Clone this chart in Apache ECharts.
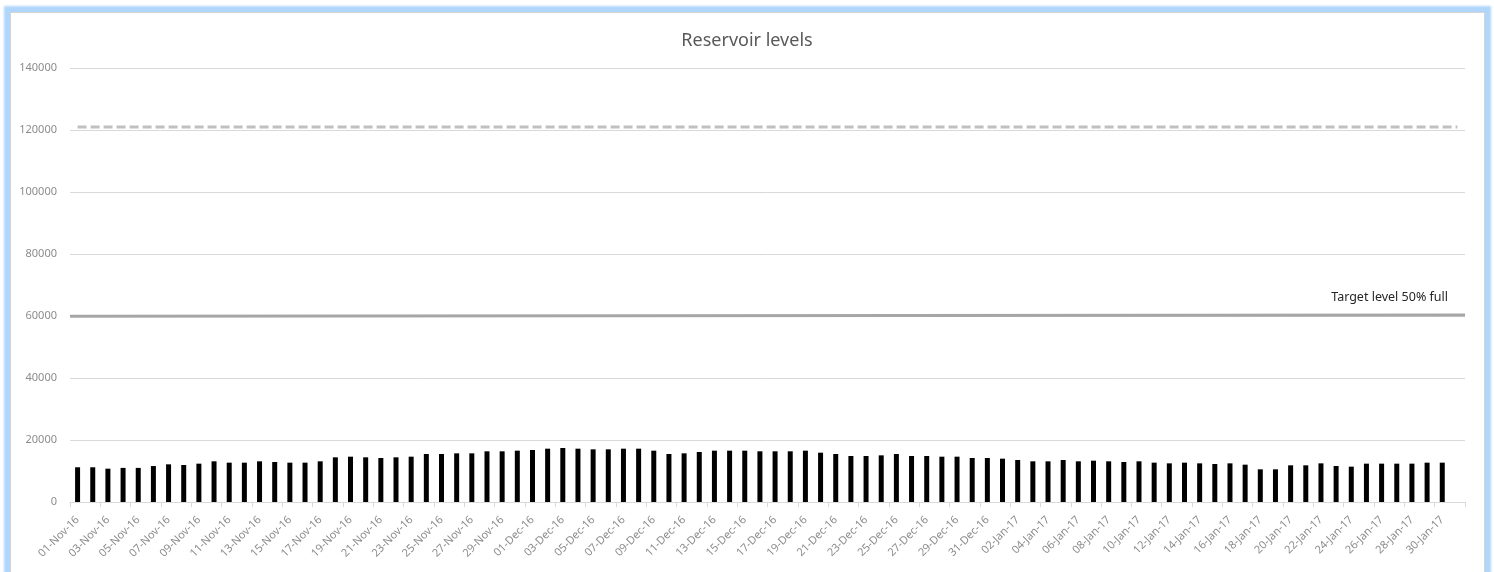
<!DOCTYPE html>
<html>
<head>
<meta charset="utf-8">
<script src="https://cdn.jsdelivr.net/npm/echarts@6/dist/echarts.min.js"></script>
<style>
  html, body { margin: 0; padding: 0; background: #ffffff; width: 1494px; height: 572px; overflow: hidden; }
  #frame { position: absolute; left: 10px; top: 12px; width: 1473px; height: 620px; background: #fff;
           border: 1px solid #d4d4d4; box-shadow: 0 0 2px 6px #b0d6fb; }
  #chart { position: absolute; left: 0; top: 0; width: 1494px; height: 572px; }
</style>
</head>
<body>
<div id="frame"></div>
<div id="chart"></div>
<script>
const dates = [
  '01-Nov-16','02-Nov-16','03-Nov-16','04-Nov-16','05-Nov-16','06-Nov-16','07-Nov-16','08-Nov-16','09-Nov-16','10-Nov-16',
  '11-Nov-16','12-Nov-16','13-Nov-16','14-Nov-16','15-Nov-16','16-Nov-16','17-Nov-16','18-Nov-16','19-Nov-16','20-Nov-16',
  '21-Nov-16','22-Nov-16','23-Nov-16','24-Nov-16','25-Nov-16','26-Nov-16','27-Nov-16','28-Nov-16','29-Nov-16','30-Nov-16',
  '01-Dec-16','02-Dec-16','03-Dec-16','04-Dec-16','05-Dec-16','06-Dec-16','07-Dec-16','08-Dec-16','09-Dec-16','10-Dec-16',
  '11-Dec-16','12-Dec-16','13-Dec-16','14-Dec-16','15-Dec-16','16-Dec-16','17-Dec-16','18-Dec-16','19-Dec-16','20-Dec-16',
  '21-Dec-16','22-Dec-16','23-Dec-16','24-Dec-16','25-Dec-16','26-Dec-16','27-Dec-16','28-Dec-16','29-Dec-16','30-Dec-16',
  '31-Dec-16','01-Jan-17','02-Jan-17','03-Jan-17','04-Jan-17','05-Jan-17','06-Jan-17','07-Jan-17','08-Jan-17','09-Jan-17',
  '10-Jan-17','11-Jan-17','12-Jan-17','13-Jan-17','14-Jan-17','15-Jan-17','16-Jan-17','17-Jan-17','18-Jan-17','19-Jan-17',
  '20-Jan-17','21-Jan-17','22-Jan-17','23-Jan-17','24-Jan-17','25-Jan-17','26-Jan-17','27-Jan-17','28-Jan-17','29-Jan-17',
  '30-Jan-17','31-Jan-17'
];

const levels = [
  11200, 11200, 10750, 11000, 11000, 11600, 12150, 11940, 12370, 13120,
  12690, 12690, 13120, 12900, 12690, 12690, 13120, 14410, 14620, 14410,
  14190, 14410, 14620, 15480, 15480, 15700, 15700, 16350, 16350, 16560,
  16775, 17200, 17420, 17200, 16990, 16990, 17200, 17200, 16560, 15480,
  15700, 16130, 16560, 16560, 16560, 16350, 16350, 16350, 16560, 15910,
  15480, 14840, 14840, 15050, 15480, 14840, 14840, 14620, 14620, 14190,
  14190, 13980, 13550, 13120, 13120, 13550, 13120, 13330, 13120, 12900,
  13120, 12690, 12470, 12690, 12470, 12260, 12470, 12040, 10540, 10540,
  11830, 11830, 12470, 11610, 11400, 12370, 12370, 12370, 12370, 12690,
  12690, null
];

const capacityDates = ['01-Nov-16', '31-Jan-17'];
const capacityLevels = [121000, 121000];

const targetPos = [0, 1];
const targetLevels = [59900, 60300];
const targetLabel = 'Target level 50% full';

const yTicks = { min: 0, max: 140000, interval: 20000 };

const FONT = '"Noto Sans", "Open Sans", sans-serif';

const chart = echarts.init(document.getElementById('chart'), null, { renderer: 'canvas' });
chart.setOption({
  backgroundColor: 'transparent',
  animation: false,
  title: {
    text: 'Reservoir levels',
    left: 'center',
    top: 27,
    textStyle: { fontFamily: FONT, fontSize: 18, fontWeight: 'normal', color: '#595959' }
  },
  grid: { left: 70, right: 29, top: 68, bottom: 70, containLabel: false },
  xAxis: [
    {
      type: 'category',
      data: dates,
      boundaryGap: true,
      axisLine: { show: true, lineStyle: { color: '#d9d9d9', width: 1 } },
      axisTick: { show: true, interval: 1, length: 5, lineStyle: { color: '#d9d9d9' } },
      axisLabel: { interval: 1, rotate: 45, fontFamily: FONT, fontSize: 11, color: '#8c8c8c', margin: 16 },
      splitLine: { show: false }
    },
    {
      type: 'value',
      min: 0, max: 1,
      show: false
    }
  ],
  yAxis: {
    type: 'value',
    min: yTicks.min, max: yTicks.max, interval: yTicks.interval,
    axisLine: { show: false },
    axisTick: { show: false },
    axisLabel: { fontFamily: FONT, fontSize: 11, color: '#8c8c8c', margin: 13, formatter: v => String(v) },
    splitLine: { lineStyle: { color: '#d9d9d9', width: 1 } }
  },
  series: [
    {
      name: 'Level',
      type: 'bar',
      xAxisIndex: 0,
      data: levels,
      barWidth: 5,
      itemStyle: { color: '#000000' }
    },
    {
      name: 'Capacity',
      type: 'line',
      xAxisIndex: 0,
      data: capacityDates.map((d, i) => [d, capacityLevels[i]]),
      symbol: 'none',
      lineStyle: { color: '#c0c0c0', width: 3, type: [9, 4] }
    },
    {
      name: 'Target',
      type: 'line',
      xAxisIndex: 1,
      data: targetPos.map((x, i) => [x, targetLevels[i]]),
      symbol: 'none',
      lineStyle: { color: '#a6a6a6', width: 3 },
      label: { show: false },
      endLabel: {
        show: true,
        formatter: targetLabel,
        fontFamily: FONT,
        fontSize: 12.5,
        color: '#262626',
        position: 'top',
        align: 'right',
        offset: [-25, -18]
      }
    }
  ]
});
</script>
</body>
</html>
